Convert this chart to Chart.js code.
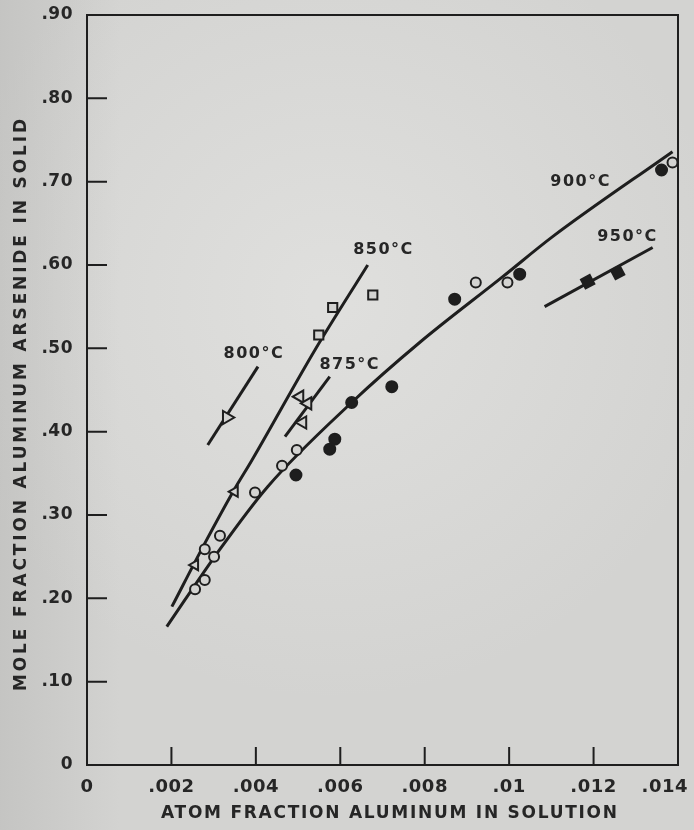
<!DOCTYPE html>
<html>
<head>
<meta charset="utf-8">
<script src="https://cdn.jsdelivr.net/npm/chart.js@4/dist/chart.umd.min.js"></script>
<style>
  html, body { margin: 0; padding: 0; background: #d4d4d2; }
  #wrap { width: 694px; height: 830px; }
</style>
</head>
<body>
<div id="wrap"><canvas id="alasChart" width="694" height="830"></canvas></div>
<script>
// axis ticks
const xTickVals = [0, 0.002, 0.004, 0.006, 0.008, 0.010, 0.012, 0.014];
const xTickText = ['0', '.002', '.004', '.006', '.008', '.01', '.012', '.014'];
const yTickVals = [0, 0.1, 0.2, 0.3, 0.4, 0.5, 0.6, 0.7, 0.8, 0.9];
const yTickText = ['0', '.10', '.20', '.30', '.40', '.50', '.60', '.70', '.80', '.90'];

// isotherm curves: [atom fraction Al in solution, mole fraction AlAs in solid]
const curve800 = [[0.00286, 0.384], [0.00405, 0.478]];
const curve850 = [[0.00201, 0.190], [0.00279, 0.266], [0.00346, 0.328], [0.00391, 0.366], [0.00540, 0.498], [0.00665, 0.600]];
const curve875 = [[0.00469, 0.394], [0.00575, 0.466]];
const curve900 = [[0.00189, 0.166], [0.00308, 0.254], [0.00428, 0.334], [0.00627, 0.435], [0.00788, 0.507], [0.00985, 0.586], [0.01103, 0.634], [0.01387, 0.736]];
const curve950 = [[0.01084, 0.550], [0.01340, 0.621]];

// measured points
const pts800 = [[0.00331, 0.417]];
const pts850 = [[0.00549, 0.516], [0.00582, 0.549], [0.00677, 0.564]];
const pts850low = [[0.00256, 0.240], [0.00350, 0.328]];
const pts875 = [[0.00504, 0.442], [0.00523, 0.434], [0.00511, 0.411]];
const pts900open = [[0.00256, 0.211], [0.00279, 0.222], [0.00301, 0.250], [0.00279, 0.259], [0.00315, 0.275],
                    [0.00398, 0.327], [0.00462, 0.359], [0.00497, 0.378], [0.00921, 0.579], [0.00996, 0.579], [0.01387, 0.723]];
const pts900solid = [[0.00495, 0.348], [0.00575, 0.379], [0.00587, 0.391], [0.00627, 0.435], [0.00722, 0.454],
                     [0.00871, 0.559], [0.01025, 0.589], [0.01361, 0.714]];
const pts950 = [[0.01186, 0.580], [0.01257, 0.591]];

// isotherm labels and where they sit
const tempText = ['800°C', '850°C', '875°C', '900°C', '950°C'];
const tempAt = [[0.00393, 0.493], [0.00700, 0.618], [0.00620, 0.480], [0.01167, 0.700], [0.01278, 0.634]];

const xTitle = 'ATOM FRACTION ALUMINUM IN SOLUTION';
const yTitle = 'MOLE FRACTION ALUMINUM ARSENIDE IN SOLID';

const ink = '#1e1e1e';
const textInk = '#262626';
const paper = '#d3d3d1';
const fontFamily = 'DejaVu Sans';

const xy = arr => arr.map(p => ({ x: p[0], y: p[1] }));

function curve(arr, smooth) {
  return {
    data: xy(arr), showLine: true, borderColor: ink, borderWidth: 3,
    pointRadius: 0, fill: false, cubicInterpolationMode: smooth ? 'monotone' : 'default'
  };
}

function marks(arr, style, r, filled, rot) {
  return {
    data: xy(arr), showLine: false, pointStyle: style, pointRadius: r,
    pointRotation: rot || 0, pointBorderColor: ink, pointBorderWidth: 2,
    pointBackgroundColor: filled ? ink : paper
  };
}

// draws text with spacing stretched to a given length
function spacedText(ctx, text, cx, cy, length) {
  ctx.letterSpacing = '0px';
  const w = ctx.measureText(text).width;
  const gap = (length - w) / (text.length - 1);
  ctx.letterSpacing = gap + 'px';
  ctx.textAlign = 'left';
  ctx.textBaseline = 'middle';
  ctx.fillText(text, cx - length / 2, cy);
}

const paperPlugin = {
  id: 'paper',
  beforeDraw(chart) {
    const { ctx, width, height } = chart;
    ctx.save();
    ctx.fillStyle = paper;
    ctx.fillRect(0, 0, width, height);
    let g = ctx.createRadialGradient(330, 300, 20, 330, 300, 400);
    g.addColorStop(0, 'rgba(226,226,224,0.8)');
    g.addColorStop(1, 'rgba(226,226,224,0)');
    ctx.fillStyle = g;
    ctx.fillRect(0, 0, width, height);
    g = ctx.createLinearGradient(0, 0, 120, 0);
    g.addColorStop(0, 'rgba(170,170,168,0.35)');
    g.addColorStop(1, 'rgba(170,170,168,0)');
    ctx.fillStyle = g;
    ctx.fillRect(0, 0, 120, height);
    ctx.restore();
    ctx.letterSpacing = '0.5px';
  }
};

const framePlugin = {
  id: 'frame',
  beforeDatasetsDraw(chart) {
    const { ctx, chartArea: a, scales } = chart;
    ctx.save();
    ctx.strokeStyle = ink;
    ctx.lineWidth = 2;
    ctx.beginPath();
    ctx.moveTo(a.left, a.top);
    ctx.lineTo(a.right, a.top);
    ctx.lineTo(a.right, a.bottom);
    // inward tick marks
    scales.x.ticks.forEach(t => {
      if (t.value <= 0 || t.value >= 0.014) return;
      const px = scales.x.getPixelForValue(t.value);
      ctx.moveTo(px, a.bottom);
      ctx.lineTo(px, a.bottom - 18);
    });
    scales.y.ticks.forEach(t => {
      if (t.value <= 0 || t.value >= 0.9) return;
      const py = scales.y.getPixelForValue(t.value);
      ctx.moveTo(a.left, py);
      ctx.lineTo(a.left + 20, py);
    });
    ctx.stroke();

    // x tick labels, kept inside the canvas at the right end
    ctx.fillStyle = textInk;
    ctx.font = 'bold 18px "' + fontFamily + '"';
    ctx.letterSpacing = '0.5px';
    ctx.textAlign = 'left';
    ctx.textBaseline = 'middle';
    scales.x.ticks.forEach((t, i) => {
      const label = xTickText[i];
      const w = ctx.measureText(label).width;
      let left = scales.x.getPixelForValue(t.value) - w / 2;
      left = Math.min(left, chart.width - 6 - w);
      ctx.fillText(label, left, a.bottom + 22);
    });
    ctx.restore();
  },
  afterDraw(chart) {
    const { ctx, scales } = chart;
    ctx.save();
    ctx.fillStyle = textInk;
    ctx.font = 'bold 16px "' + fontFamily + '"';
    ctx.letterSpacing = '1.5px';
    ctx.textAlign = 'center';
    ctx.textBaseline = 'middle';
    tempText.forEach((t, i) => {
      const px = scales.x.getPixelForValue(tempAt[i][0]);
      const py = scales.y.getPixelForValue(tempAt[i][1]);
      ctx.fillText(t, px + 1, py);
    });
    ctx.font = 'bold 17px "' + fontFamily + '"';
    spacedText(ctx, xTitle, 389, 814, 456);
    ctx.font = 'bold 17px "' + fontFamily + '"';
    ctx.translate(22, 405);
    ctx.rotate(-Math.PI / 2);
    spacedText(ctx, yTitle, 0, 0, 572);
    ctx.restore();
  }
};

new Chart(document.getElementById('alasChart'), {
  type: 'scatter',
  data: {
    datasets: [
      marks(pts950, 'rect', 7, true, 62),
      marks(pts900solid, 'circle', 5.5, true),
      marks(pts900open, 'circle', 5, false),
      marks(pts875, 'triangle', 7, false, 270),
      marks(pts850, 'rect', 6.5, false),
      marks(pts850low, 'triangle', 6, false, 270),
      marks(pts800, 'triangle', 7.5, false, 210),
      curve(curve800, false),
      curve(curve850, true),
      curve(curve875, false),
      curve(curve900, true),
      curve(curve950, false)
    ]
  },
  options: {
    responsive: false,
    devicePixelRatio: 1,
    animation: false,
    layout: { padding: { top: 15, right: 16, left: 0, bottom: 0 } },
    plugins: { legend: { display: false }, tooltip: { enabled: false } },
    scales: {
      x: {
        type: 'linear', min: 0, max: 0.014,
        afterBuildTicks: s => { s.ticks = xTickVals.map(v => ({ value: v })); },
        afterFit: s => { s.height = 65; s.paddingLeft = 0; s.paddingRight = 0; },
        ticks: { display: false },
        grid: { display: false, drawTicks: false },
        border: { display: true, color: ink, width: 2 }
      },
      y: {
        type: 'linear', min: 0, max: 0.9,
        afterBuildTicks: s => { s.ticks = yTickVals.map(v => ({ value: v })); },
        afterFit: s => { s.width = 87; s.paddingTop = 0; s.paddingBottom = 0; },
        ticks: {
          callback: (v, i) => yTickText[i],
          color: textInk, padding: 14, autoSkip: false,
          font: { family: fontFamily, size: 17, weight: 'bold' }
        },
        grid: { display: false, drawTicks: false },
        border: { display: true, color: ink, width: 2 }
      }
    }
  },
  plugins: [paperPlugin, framePlugin]
});
</script>
</body>
</html>
